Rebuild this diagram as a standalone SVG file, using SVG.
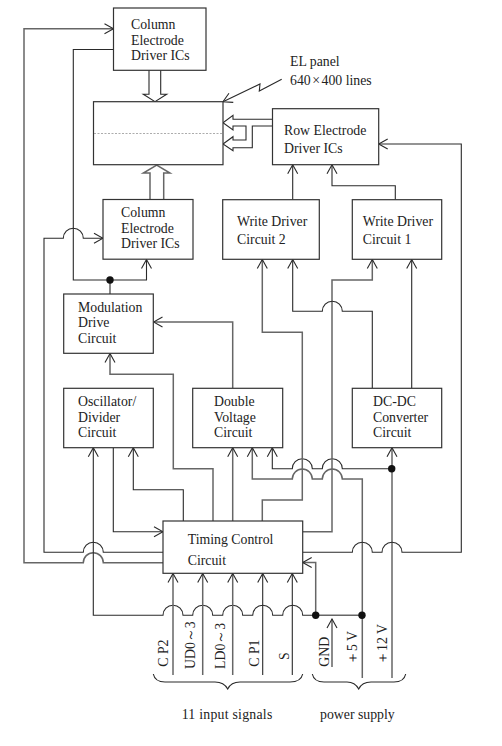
<svg xmlns="http://www.w3.org/2000/svg" width="502" height="746" viewBox="0 0 502 746">
<style>
.b{fill:#fff;stroke:#333;stroke-width:1.2}
.c{fill:none;stroke:#2a2a2a;stroke-width:1.1}
.g{stroke:#666;stroke-width:1.5}
.a{marker-end:url(#ah)}
text{font-family:"Liberation Serif","Times New Roman",serif;font-size:13.8px;fill:#222}
</style>
<defs>
<marker id="ah" markerUnits="userSpaceOnUse" viewBox="-10 -6 11 12" refX="0" refY="0" markerWidth="11" markerHeight="12" orient="auto"><path d="M-9,-5L0,0L-9,5" fill="none" stroke="#2a2a2a" stroke-width="1.1"/></marker>
</defs>
<rect width="502" height="746" fill="#fff"/>
<g id="connectors">
<path class="c a g" d="M163,562.7H103.3a10,10 0 0 0 -20,0H24V28.7H113.5"/>
<path class="c a" d="M110,294V280M110,280H73.3V49.5H113.5M110,280H146.5V259.5"/>
<path class="c a" d="M163,552.3H103.3a10,10 0 0 0 -20,0H44V238.3H63.3a10,10 0 0 1 20,0H103"/>
<path class="c a" d="M315.7,615.3H302.7a10,10 0 0 0 -20,0H272.7a10,10 0 0 0 -20,0H242.7a10,10 0 0 0 -20,0H212.7a10,10 0 0 0 -20,0H183a10,10 0 0 0 -20,0H93.3V447.7"/>
<path class="c a g" d="M362,615.3H315.7V562.5H302.7"/>
<path class="c a" d="M332,667V619"/>
<path class="c a g" d="M173,675V573.5"/>
<path class="c a g" d="M202.7,675V573.5"/>
<path class="c a g" d="M232.7,675V573.5"/>
<path class="c a" d="M262.7,675V573.5"/>
<path class="c a" d="M292.3,675V573.5"/>
<path class="c a" d="M113.3,447.7V531.7H163"/>
<path class="c a" d="M183.3,521V489.7H133.3V447.7"/>
<path class="c a g" d="M213,521V468.7H173.3V374.3H110V353.5"/>
<path class="c a g" d="M232.7,388V322H153.5"/>
<path class="c a g" d="M232.7,521V447.7"/>
<path class="c a g" d="M362.3,678V479H342.3a10,10 0 0 0 -20,0H312.3a10,10 0 0 0 -20,0H252.3V447.7"/>
<path class="c a" d="M392,468.7H342.3a10,10 0 0 0 -20,0H312.3a10,10 0 0 0 -20,0H272.3V447.7"/>
<path class="c a g" d="M392,678V447.7"/>
<path class="c a" d="M302.7,552.3H352.3a10,10 0 0 1 20,0H382a10,10 0 0 1 20,0H461.3V144H378.7"/>
<path class="c a g" d="M302.7,531.7H332V280H372.3V259.5"/>
<path class="c a g" d="M262.3,521V500H302.3V332.3H262.3V259.5"/>
<path class="c a" d="M372.3,388V311.3H342.3a10,10 0 0 0 -20,0H292.7V259.5"/>
<path class="c a" d="M411.7,388V259.5"/>
<path class="c a" d="M292.7,199.7V164.8"/>
<path class="c a" d="M395.3,199.7V185.7H332V164.8"/>
<path class="c" d="M149,70V94.3H143.3L155,101.7L166.7,94.3H160.7V70"/>
<path class="c g" d="M150,199.5V173H143.3L156.7,165L170,173H163.7V199.5"/>
<path class="c" d="M272.5,119.3H233V115.3L223,122.7L233,130V126H246V140H233V136.7L223,144L233,150.7V147.7H252.3V126H272.5"/>
<path class="c a" d="M281.7,79.3L259.3,91L260,84L223,101.7"/>
<path class="c" d="M153.3,674Q155,682 165,682H215Q224,682 227.7,689Q231,682 240,682H290Q301,682 302.7,674"/>
<path class="c" d="M312.3,674Q314,682 324,682H347Q355,682 358.7,689Q362,682 371,682H394Q404,682 405.7,674"/>
<circle cx="110" cy="280" r="3.7" fill="#111"/>
<circle cx="391.7" cy="468.7" r="3.7" fill="#111"/>
<circle cx="315.7" cy="615.3" r="3.7" fill="#111"/>
<circle cx="362" cy="615.3" r="3.7" fill="#111"/>
</g>
<g id="col-top"><rect class="b" x="113.5" y="8" width="92.5" height="62.3"/><text x="131" y="29">Column</text><text x="131" y="44.5">Electrode</text><text x="131" y="60">Driver ICs</text></g>
<g id="panel"><rect class="b" x="93.5" y="101.7" width="129.5" height="63"/><path d="M94,133.5H223" stroke="#888" stroke-width="0.7" stroke-dasharray="2 1.5" fill="none"/></g>
<g id="panel-label"><text x="290" y="66">EL panel</text><text x="290" y="84.7">640<tspan dx="1.5">×</tspan><tspan dx="1.5">400 lines</tspan></text></g>
<g id="col-bottom"><rect class="b" x="103" y="199.5" width="90" height="59.7"/><text x="121" y="217">Column</text><text x="121" y="233">Electrode</text><text x="121" y="248">Driver ICs</text></g>
<g id="row"><rect class="b" x="272.5" y="108.7" width="106.2" height="56"/><text x="284" y="135">Row Electrode</text><text x="284" y="152.7">Driver ICs</text></g>
<g id="wd2"><rect class="b" x="222.7" y="199.7" width="96.6" height="59.6"/><text x="237" y="226">Write Driver</text><text x="237" y="244">Circuit 2</text></g>
<g id="wd1"><rect class="b" x="352.3" y="199.7" width="89.4" height="59.6"/><text x="362.7" y="226">Write Driver</text><text x="362.7" y="244">Circuit 1</text></g>
<g id="mod"><rect class="b" x="63.7" y="294" width="89.6" height="59.3"/><text x="78" y="312">Modulation</text><text x="78" y="327.3">Drive</text><text x="78" y="343">Circuit</text></g>
<g id="osc"><rect class="b" x="63.7" y="388.3" width="89.6" height="59.4"/><text x="78" y="406">Oscillator/</text><text x="78" y="421.5">Divider</text><text x="78" y="437">Circuit</text></g>
<g id="dbl"><rect class="b" x="192.7" y="388.3" width="90" height="59.4"/><text x="214" y="406">Double</text><text x="214" y="421.5">Voltage</text><text x="214" y="437">Circuit</text></g>
<g id="dc"><rect class="b" x="352.3" y="388.3" width="89.4" height="59.4"/><text x="373" y="406">DC-DC</text><text x="373" y="421.5">Converter</text><text x="373" y="437">Circuit</text></g>
<g id="timing"><rect class="b" x="163" y="521" width="139.7" height="52.3"/><text x="187.7" y="544.3">Timing Control</text><text x="187.7" y="565">Circuit</text></g>
<g id="labels">
<text transform="translate(168,666.7) rotate(-90)">C P2</text>
<text transform="translate(195,669) rotate(-90)">UD0～3</text>
<text transform="translate(225,669) rotate(-90)">LD0～3</text>
<text transform="translate(259.3,666.7) rotate(-90)">C P1</text>
<text transform="translate(289,660) rotate(-90)">S</text>
<text transform="translate(329.3,666.7) rotate(-90)">GND</text>
<text transform="translate(357.3,665) rotate(-90)">＋5 V</text>
<text transform="translate(387,665) rotate(-90)">＋12 V</text>
<text x="181.7" y="718.7" letter-spacing="0.25">11 input signals</text>
<text x="320" y="718.7">power supply</text>
</g>
</svg>
